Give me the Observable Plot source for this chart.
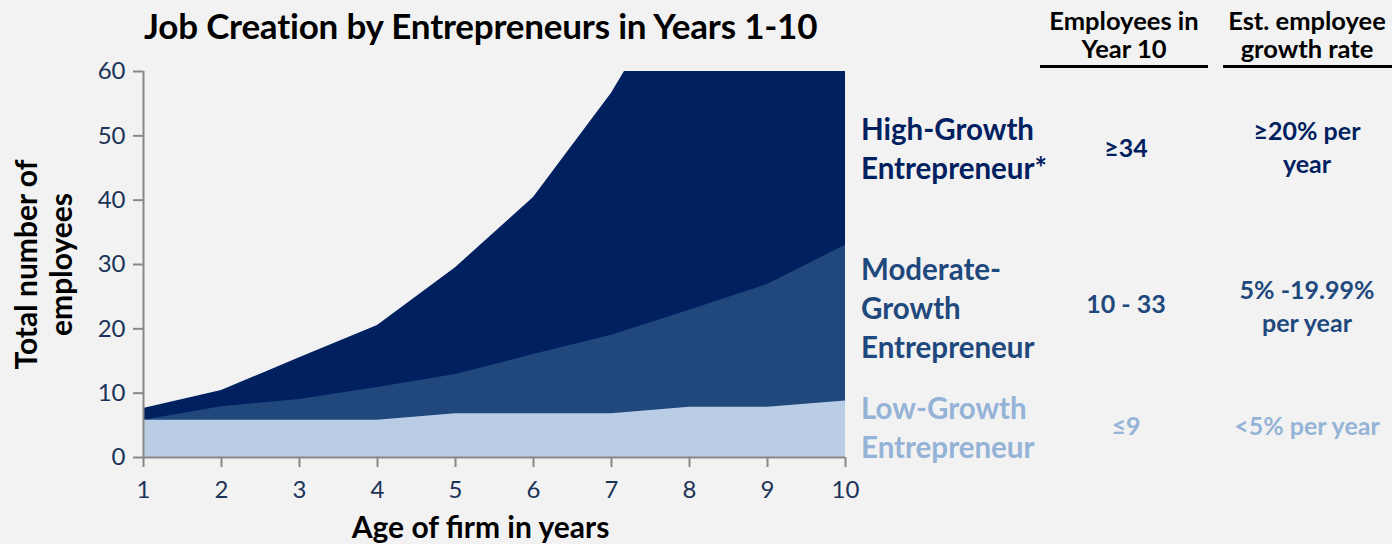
<!DOCTYPE html>
<html>
<head>
<meta charset="utf-8">
<script src="https://cdn.jsdelivr.net/npm/d3@7"></script>
<script src="https://cdn.jsdelivr.net/npm/@observablehq/plot@0.6"></script>
<style>
  html, body { margin: 0; padding: 0; background: #f2f2f2; }
  #page { position: relative; width: 1392px; height: 544px; overflow: hidden; font-family: Lato, "Open Sans", sans-serif; }
  #title { position: absolute; left: 0; top: 0; width: 960px; height: 52px; font-size: 35px; font-weight: 700; color: #000; }
  #title span { position: absolute; left: 144px; top: 4px; white-space: nowrap; letter-spacing: -0.2px; }
  #chart { position: absolute; left: 0; top: 52px; }
  .t { position: absolute; font-weight: 700; white-space: nowrap; }
  .lab { font-size: 29.5px; line-height: 39px; left: 861px; }
  .c { font-size: 25px; line-height: 33px; text-align: center; transform: translateX(-50%); }
  .hdr { font-size: 25.5px; line-height: 26px; color: #000; text-align: center; transform: translateX(-50%); }
  .rule { position: absolute; height: 3px; background: #000; top: 65px; }
</style>
</head>
<body>
<div id="page">
  <div id="title"><span></span></div>
  <div id="chart"></div>
</div>
<script>
const titleText = "Job Creation by Entrepreneurs in Years 1-10";
const years = [1, 2, 3, 4, 5, 6, 7, 8, 9, 10];
const highGrowth = [7.6, 10.4, 15.5, 20.5, 29.5, 40.4, 56.6, 77, 100, 130];
const moderateGrowth = [5.8, 7.9, 9, 10.9, 12.9, 16, 19, 22.9, 26.9, 33];
const lowGrowth = [5.8, 5.8, 5.8, 5.8, 6.8, 6.8, 6.8, 7.8, 7.8, 8.8];
const yTicks = [0, 10, 20, 30, 40, 50, 60];
const xLabel = "Age of firm in years";
const yLabel = "Total number of\nemployees";

const categoryNames = [["High-Growth", "Entrepreneur*"], ["Moderate-", "Growth", "Entrepreneur"], ["Low-Growth", "Entrepreneur"]];
const employeesYear10 = ["≥34", "10 - 33", "≤9"];
const growthRates = [["≥20% per", "year"], ["5% -19.99%", "per year"], ["<5% per year"]];
const headers = [["Employees in", "Year 10"], ["Est. employee", "growth rate"]];
const categoryColors = ["#002060", "#1f497d", "#95b3d7"];

document.querySelector("#title span").textContent = titleText;

const data = years.map((yr, i) => ({year: yr, high: highGrowth[i], moderate: moderateGrowth[i], low: lowGrowth[i]}));

const tickColor = "#1b3358";
const chart = Plot.plot({
  width: 870,
  height: 492,
  marginTop: 19,
  marginBottom: 87,
  marginLeft: 143,
  marginRight: 25,
  style: {background: "transparent", fontFamily: "Lato, 'Open Sans', sans-serif", overflow: "visible"},
  x: {domain: [1, 10], label: null},
  y: {domain: [0, 60], label: null},
  marks: [
    Plot.areaY(data, {x: "year", y: "high", fill: "#002060", clip: true}),
    Plot.areaY(data, {x: "year", y: "moderate", fill: "#20487c", clip: true}),
    Plot.areaY(data, {x: "year", y: "low", fill: "#b9cde5", clip: true}),
    Plot.axisX({ticks: years, tickSize: 10, tickPadding: 13, stroke: "#888", strokeWidth: 2, fill: tickColor, fontSize: 24, label: null, tickFormat: d => String(d)}),
    Plot.axisY({ticks: yTicks, tickSize: 10, tickPadding: 8, stroke: "#888", strokeWidth: 2, fill: tickColor, fontSize: 24, label: null}),
    Plot.ruleX([1], {stroke: "#888", strokeWidth: 2}),
    Plot.ruleY([0], {stroke: "#888", strokeWidth: 2}),
    Plot.text([yLabel], {frameAnchor: "left", textAnchor: "middle", dx: -100, rotate: -90, fontSize: 30, fontWeight: 700, fill: "#000", lineHeight: 1.17, text: d => d}),
    Plot.text([xLabel], {frameAnchor: "bottom", dx: -14, dy: 80, fontSize: 30, fontWeight: 700, fill: "#000", text: d => d})
  ]
});
document.getElementById("chart").appendChild(chart);

const page = document.getElementById("page");
function addText(cls, lines, x, y, color) {
  const d = document.createElement("div");
  d.className = "t " + cls;
  d.style.top = y + "px";
  if (x != null) d.style.left = x + "px";
  d.style.color = color;
  d.innerHTML = lines.map(s => s.replace(/</g, "&lt;")).join("<br>");
  page.appendChild(d);
}
// headers: each line as its own element
const hdrX = [1124, 1307];
headers.forEach((lines, i) => {
  lines.forEach((s, j) => addText("hdr", [s], hdrX[i], 7 + j * 28, "#000"));
});
[[1040, 168], [1223, 169]].forEach(([l, w]) => {
  const r = document.createElement("div");
  r.className = "rule"; r.style.left = l + "px"; r.style.width = w + "px";
  page.appendChild(r);
});
// category labels
const labTops = [109, 249, 388];
categoryNames.forEach((lines, i) => addText("lab", lines, null, labTops[i], categoryColors[i]));
// employees column
const empTops = [131, 287, 409];
employeesYear10.forEach((s, i) => addText("c", [s], 1126, empTops[i], categoryColors[i]));
// growth columns
const grTops = [114, 273, 409];
growthRates.forEach((lines, i) => addText("c", lines, 1307, grTops[i], categoryColors[i]));
</script>
</body>
</html>
